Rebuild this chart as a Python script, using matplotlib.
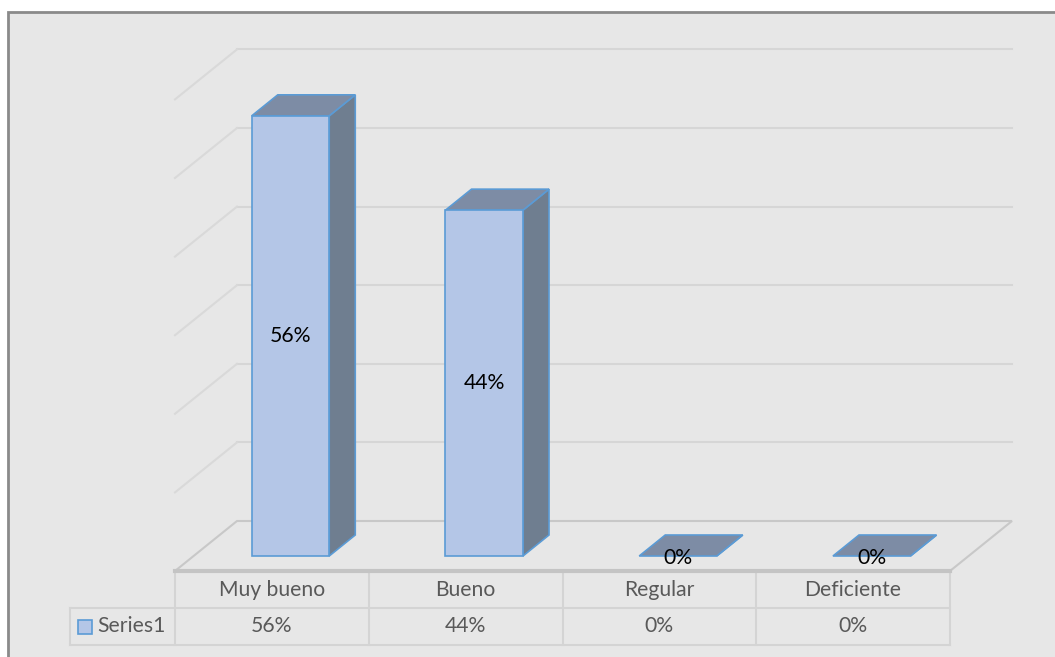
import matplotlib
matplotlib.use("Agg")
import matplotlib.pyplot as plt
from matplotlib.patches import Polygon, Rectangle

plt.rcParams['font.family'] = ['Lato', 'DejaVu Sans']

categories = ["Muy bueno", "Bueno", "Regular", "Deficiente"]
values = [0.56, 0.44, 0.0, 0.0]
labels = ["56%", "44%", "0%", "0%"]
series_name = "Series1"
grid_ticks = [0.1, 0.2, 0.3, 0.4, 0.5, 0.6]

W, H = 1055, 657
CAT = 193.75            # px per category
VAL = 786.0             # px per 1.0 value
X0, Y0 = 175, 86        # front-left floor corner (px from left / from bottom)
DX, DY = 62, 50         # floor depth offset in px
FS = 15.2

fig = plt.figure(figsize=(W / 100, H / 100), dpi=100, facecolor='white')
ax = fig.add_axes([0, 0, 1, 1])
ax.set_xlim(-X0 / CAT - 0.5, (W - X0) / CAT - 0.5)
ax.set_ylim(-Y0 / VAL, (H - Y0) / VAL)
ax.axis('off')

ddx, ddy = DX / CAT, DY / VAL


def P(x, v, d):
    # category position x, value v, depth d (0 front .. 1 back)
    return (x + d * ddx, v + d * ddy)


# chart area box (runs off the right and bottom edges)
ax.add_patch(Rectangle((8, -20), W + 20, H + 20 - 12, transform=None, facecolor='#e7e7e7',
                       edgecolor='#8a8a8a', lw=2, zorder=0))

n = len(categories)
left, right = -0.5, n - 0.5

# floor
floor = [P(left, 0, 0), P(right, 0, 0), P(right, 0, 1), P(left, 0, 1)]
ax.add_patch(Polygon(floor, closed=True, facecolor='#e7e7e7', edgecolor='#c8c8c8', lw=1.5, zorder=1))
ax.plot([left, right], [0, 0], color='#c4c4c4', lw=3, zorder=1.5)

# gridlines: back wall + left wall diagonals
for g in grid_ticks:
    xa, ya = P(left, g, 1)
    xb, yb = P(right, g, 1)
    ax.plot([xa, xb], [ya, yb], color='#d6d6d6', lw=1.5, zorder=1)
    xc, yc = P(left, g, 0)
    ax.plot([xc, xa], [yc, ya], color='#d9d9d9', lw=1.5, zorder=1)

# 3D bars
front_c, edge_c = '#b4c6e7', '#5b9bd5'
top_c, side_c = '#7d8ca5', '#6f7e90'
bw = 0.4
d0, d1 = 0.3, 0.72
for i, v in enumerate(values):
    xl, xr = i - bw / 2, i + bw / 2
    top = [P(xl, v, d0), P(xr, v, d0), P(xr, v, d1), P(xl, v, d1)]
    side = [P(xr, 0, d0), P(xr, 0, d1), P(xr, v, d1), P(xr, v, d0)]
    front = [P(xl, 0, d0), P(xr, 0, d0), P(xr, v, d0), P(xl, v, d0)]
    ax.add_patch(Polygon(side, closed=True, facecolor=side_c, edgecolor=edge_c, lw=1.2, zorder=3))
    ax.add_patch(Polygon(top, closed=True, facecolor=top_c, edgecolor=edge_c, lw=1.2, zorder=3))
    if v > 0:
        ax.add_patch(Polygon(front, closed=True, facecolor=front_c, edgecolor=edge_c, lw=1.2, zorder=4))
        cx, cy = P(i, v / 2, d0)
    else:
        cx, cy = P(i, -0.002, d0)
    ax.text(cx, cy, labels[i], ha='center', va='center', fontsize=FS, color='black', zorder=5)

# data table
row_h = 37 / VAL
tc = '#d4d4d4'
tx = '#595959'
key_left = left - 105 / CAT
ax.plot([key_left, right], [-row_h, -row_h], color=tc, lw=1.5, zorder=1)
ax.plot([key_left, right], [-2 * row_h, -2 * row_h], color=tc, lw=1.5, zorder=1)
ax.plot([key_left, key_left], [-row_h, -2 * row_h], color=tc, lw=1.5, zorder=1)
for k in range(n + 1):
    ax.plot([left + k, left + k], [0, -2 * row_h], color=tc, lw=1.5, zorder=1)
for i, c in enumerate(categories):
    ax.text(i, -row_h / 2, c, ha='center', va='center', fontsize=FS, color=tx)
    ax.text(i, -1.5 * row_h, labels[i], ha='center', va='center', fontsize=FS, color=tx)

# legend key + series name
ks = 14 / CAT
ax.add_patch(Rectangle((key_left + 8 / CAT, -1.5 * row_h - 7 / VAL), ks, 14 / VAL,
                       facecolor=front_c, edgecolor=edge_c, lw=1.2, zorder=3))
ax.text(key_left + 27 / CAT, -1.5 * row_h, series_name, ha='left', va='center',
        fontsize=FS, color=tx)

fig.savefig("out.png", dpi=100, facecolor='white')
